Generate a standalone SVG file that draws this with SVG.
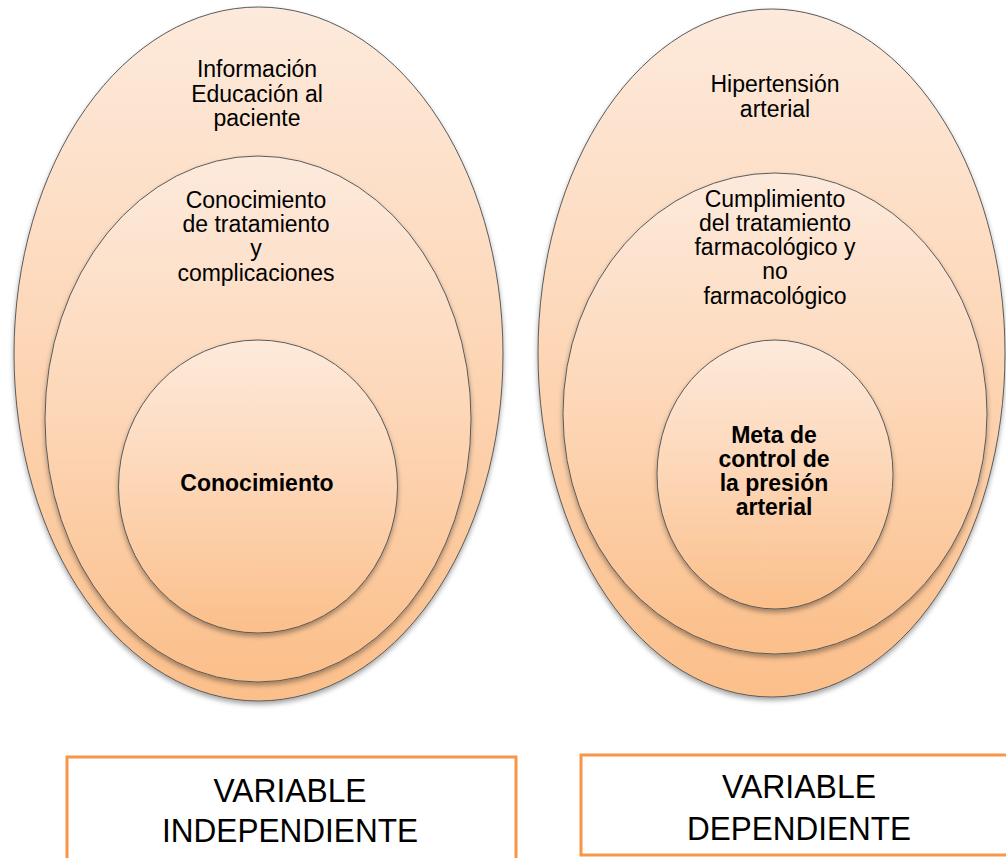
<svg xmlns="http://www.w3.org/2000/svg" width="1006" height="858" viewBox="0 0 1006 858">
<style>
.ell{fill:url(#peach);stroke:#5a5a5a;stroke-width:1;filter:url(#sh)}
.t{font-family:"Liberation Sans",Arial,sans-serif;font-size:23px;fill:#000;text-anchor:middle}
.b{font-weight:bold}
.box{fill:#fff;stroke:#F79646;stroke-width:3}
.bt{font-family:"Liberation Sans",Arial,sans-serif;font-size:33px;fill:#000;text-anchor:middle}
</style>
<defs>
<linearGradient id="peach" x1="0" y1="0" x2="0" y2="1">
<stop offset="0" stop-color="#FDEADC"/>
<stop offset="0.5" stop-color="#FDD6B6"/>
<stop offset="1" stop-color="#FBBF8A"/>
</linearGradient>
<filter id="sh" x="-10%" y="-10%" width="120%" height="120%">
<feDropShadow dx="0" dy="3" stdDeviation="2.5" flood-color="#000" flood-opacity="0.35"/>
</filter>
</defs>
<rect width="1006" height="858" fill="#fff"/>
<g id="left-outer">
<ellipse class="ell" cx="258.5" cy="354" rx="244.5" ry="347"/>
<text class="t" x="257" y="77">Información</text>
<text class="t" x="257" y="102">Educación al</text>
<text class="t" x="257" y="126">paciente</text>
</g>
<g id="left-middle">
<ellipse class="ell" cx="258" cy="419" rx="213" ry="263"/>
<text class="t" x="256" y="208">Conocimiento</text>
<text class="t" x="256" y="232">de tratamiento</text>
<text class="t" x="256" y="256">y</text>
<text class="t" x="256" y="281">complicaciones</text>
</g>
<g id="left-inner">
<ellipse class="ell" cx="258" cy="486.5" rx="139.5" ry="146.5"/>
<text class="t b" x="257" y="491">Conocimiento</text>
</g>
<g id="right-outer">
<ellipse class="ell" cx="771.5" cy="353" rx="233.5" ry="344"/>
<text class="t" x="775" y="92">Hipertensión</text>
<text class="t" x="775" y="117">arterial</text>
</g>
<g id="right-middle">
<ellipse class="ell" cx="775" cy="413.5" rx="212" ry="240.5"/>
<text class="t" x="775" y="207">Cumplimiento</text>
<text class="t" x="775" y="231">del tratamiento</text>
<text class="t" x="775" y="255">farmacológico y</text>
<text class="t" x="775" y="279">no</text>
<text class="t" x="775" y="304">farmacológico</text>
</g>
<g id="right-inner">
<ellipse class="ell" cx="775" cy="474.5" rx="118" ry="134.5"/>
<text class="t b" x="774" y="443">Meta de</text>
<text class="t b" x="774" y="467">control de</text>
<text class="t b" x="774" y="491">la presión</text>
<text class="t b" x="774" y="515">arterial</text>
</g>
<g id="box-independiente">
<rect class="box" x="67" y="757" width="449" height="130"/>
<text class="bt" x="290" y="802" textLength="153" lengthAdjust="spacingAndGlyphs">VARIABLE</text>
<text class="bt" x="290" y="842" textLength="256" lengthAdjust="spacingAndGlyphs">INDEPENDIENTE</text>
</g>
<g id="box-dependiente">
<rect class="box" x="581" y="755" width="440" height="100"/>
<text class="bt" x="799" y="798" textLength="154" lengthAdjust="spacingAndGlyphs">VARIABLE</text>
<text class="bt" x="799" y="840" textLength="224" lengthAdjust="spacingAndGlyphs">DEPENDIENTE</text>
</g>
<g id="connectors"/>
</svg>
